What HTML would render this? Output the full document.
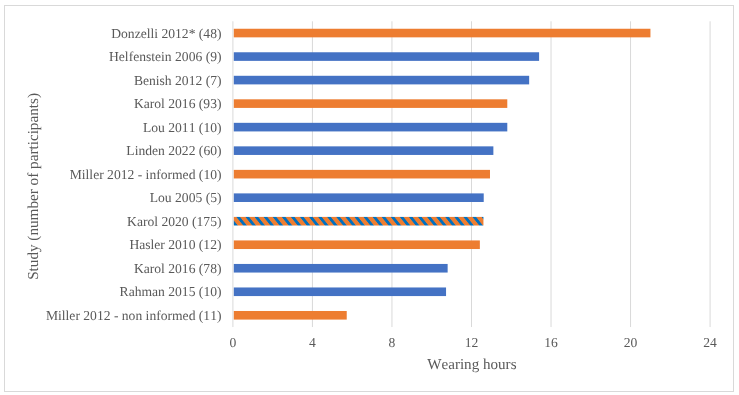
<!DOCTYPE html>
<html><head><meta charset="utf-8"><style>
html,body{margin:0;padding:0;background:#fff;}
svg{display:block;will-change:transform;}
text{font-family:"Liberation Serif",serif;font-size:13.6px;fill:#595959;font-kerning:none;text-rendering:geometricPrecision;}
</style></head><body>
<svg width="739" height="395" viewBox="0 0 739 395">
<defs>
<pattern id="hatch" patternUnits="userSpaceOnUse" x="8.33" y="0" width="9.08" height="20" patternTransform="skewX(38.66)">
<rect width="9.08" height="20" fill="#ED7D31"/>
<rect width="3.6" height="20" fill="#0070C0"/>
</pattern>
</defs>
<rect x="4.5" y="5.5" width="729" height="386" fill="#fff" stroke="#D9D9D9" stroke-width="1"/>
<line x1="232.90" y1="21.29" x2="232.90" y2="327.05" stroke="#D9D9D9" stroke-width="1"/>
<line x1="312.43" y1="21.29" x2="312.43" y2="327.05" stroke="#D9D9D9" stroke-width="1"/>
<line x1="391.96" y1="21.29" x2="391.96" y2="327.05" stroke="#D9D9D9" stroke-width="1"/>
<line x1="471.50" y1="21.29" x2="471.50" y2="327.05" stroke="#D9D9D9" stroke-width="1"/>
<line x1="551.03" y1="21.29" x2="551.03" y2="327.05" stroke="#D9D9D9" stroke-width="1"/>
<line x1="630.56" y1="21.29" x2="630.56" y2="327.05" stroke="#D9D9D9" stroke-width="1"/>
<line x1="710.09" y1="21.29" x2="710.09" y2="327.05" stroke="#D9D9D9" stroke-width="1"/>
<rect x="233.80" y="28.75" width="416.64" height="8.6" fill="#ED7D31"/>
<text x="221.5" y="37.55" text-anchor="end">Donzelli 2012* (48)</text>
<rect x="233.80" y="52.27" width="305.30" height="8.6" fill="#4472C4"/>
<text x="221.5" y="61.07" text-anchor="end">Helfenstein 2006 (9)</text>
<rect x="233.80" y="75.79" width="295.36" height="8.6" fill="#4472C4"/>
<text x="221.5" y="84.59" text-anchor="end">Benish 2012 (7)</text>
<rect x="233.80" y="99.31" width="273.49" height="8.6" fill="#ED7D31"/>
<text x="221.5" y="108.11" text-anchor="end">Karol 2016 (93)</text>
<rect x="233.80" y="122.83" width="273.49" height="8.6" fill="#4472C4"/>
<text x="221.5" y="131.63" text-anchor="end">Lou 2011 (10)</text>
<rect x="233.80" y="146.35" width="259.57" height="8.6" fill="#4472C4"/>
<text x="221.5" y="155.15" text-anchor="end">Linden 2022 (60)</text>
<rect x="233.80" y="169.87" width="256.19" height="8.6" fill="#ED7D31"/>
<text x="221.5" y="178.67" text-anchor="end">Miller 2012 - informed (10)</text>
<rect x="233.80" y="193.39" width="249.92" height="8.6" fill="#4472C4"/>
<text x="221.5" y="202.19" text-anchor="end">Lou 2005 (5)</text>
<rect x="233.80" y="216.91" width="249.63" height="8.6" fill="url(#hatch)"/>
<text x="221.5" y="225.71" text-anchor="end">Karol 2020 (175)</text>
<rect x="233.80" y="240.43" width="246.05" height="8.6" fill="#ED7D31"/>
<text x="221.5" y="249.23" text-anchor="end">Hasler 2010 (12)</text>
<rect x="233.80" y="263.95" width="213.84" height="8.6" fill="#4472C4"/>
<text x="221.5" y="272.75" text-anchor="end">Karol 2016 (78)</text>
<rect x="233.80" y="287.47" width="212.25" height="8.6" fill="#4472C4"/>
<text x="221.5" y="296.27" text-anchor="end">Rahman 2015 (10)</text>
<rect x="233.80" y="310.99" width="112.93" height="8.6" fill="#ED7D31"/>
<text x="221.5" y="319.79" text-anchor="end">Miller 2012 - non informed (11)</text>
<text x="232.90" y="347.1" text-anchor="middle">0</text>
<text x="312.43" y="347.1" text-anchor="middle">4</text>
<text x="391.96" y="347.1" text-anchor="middle">8</text>
<text x="471.50" y="347.1" text-anchor="middle">12</text>
<text x="551.03" y="347.1" text-anchor="middle">16</text>
<text x="630.56" y="347.1" text-anchor="middle">20</text>
<text x="710.09" y="347.1" text-anchor="middle">24</text>
<text x="471.9" y="368.9" text-anchor="middle" style="font-size:15.1px">Wearing hours</text>
<text transform="translate(38.4,186.45) rotate(-90)" text-anchor="middle" style="font-size:15.2px">Study (number of participants)</text>
</svg>
</body></html>
